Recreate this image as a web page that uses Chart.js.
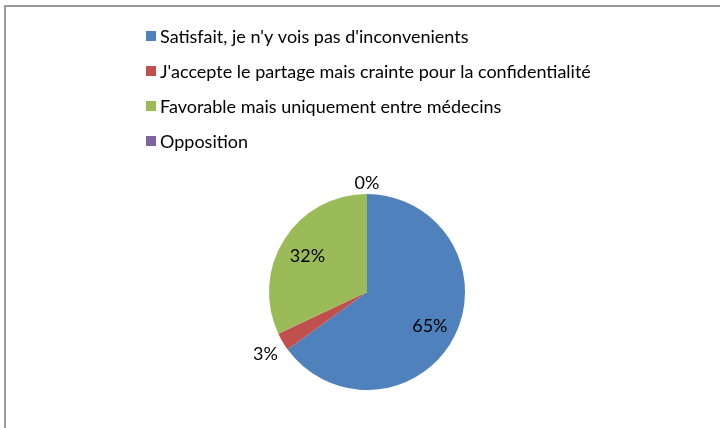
<!DOCTYPE html>
<html>
<head>
<meta charset="utf-8">
<script src="https://cdn.jsdelivr.net/npm/chart.js@4"></script>
<style>
  html, body { margin: 0; padding: 0; background: #fff; }
  #wrap { width: 720px; height: 428px; }
</style>
</head>
<body>
<div id="wrap"><canvas id="pieChart" width="720" height="428"></canvas></div>
<script>
const categories = [
  "Satisfait, je n'y vois pas d'inconvenients",
  "J'accepte le partage mais crainte pour la confidentialité",
  'Favorable mais uniquement entre médecins',
  'Opposition'
];
const percents = [65, 3, 32, 0];
const colors = ['#4F81BD', '#C0504D', '#9BBB59', '#8064A2'];

const FONT = '18px Lato';

// cadre gris (haut + gauche)
const framePlugin = {
  id: 'frame',
  beforeDraw(chart) {
    const { ctx, width, height } = chart;
    ctx.save();
    ctx.strokeStyle = '#9a9a9a';
    ctx.lineWidth = 2;
    ctx.beginPath();
    ctx.moveTo(5, height);
    ctx.lineTo(5, 6);
    ctx.lineTo(width, 6);
    ctx.stroke();
    ctx.restore();
  }
};

// légende verticale en haut
const legendPlugin = {
  id: 'vLegend',
  afterDraw(chart) {
    const { ctx } = chart;
    const labels = chart.data.labels;
    const bg = chart.data.datasets[0].backgroundColor;
    ctx.save();
    ctx.font = FONT;
    ctx.textBaseline = 'middle';
    labels.forEach((lab, i) => {
      const cy = 36 + i * 35;
      ctx.fillStyle = bg[i];
      ctx.fillRect(146, cy - 5, 10, 10);
      ctx.fillStyle = '#000';
      ctx.fillText(lab, 160, cy + 1);
    });
    ctx.restore();
  }
};

// étiquettes de pourcentage
const labelPlugin = {
  id: 'pctLabels',
  afterDatasetsDraw(chart) {
    const { ctx } = chart;
    const meta = chart.getDatasetMeta(0);
    const data = chart.data.datasets[0].data;
    ctx.save();
    ctx.font = FONT;
    ctx.fillStyle = '#000';
    ctx.textAlign = 'center';
    ctx.textBaseline = 'middle';
    meta.data.forEach((arc, i) => {
      const { x, y, startAngle, endAngle, outerRadius } = arc.getProps(['x', 'y', 'startAngle', 'endAngle', 'outerRadius'], true);
      const mid = (startAngle + endAngle) / 2;
      const d = data[i] >= 10 ? outerRadius * 0.72 : outerRadius + (data[i] === 0 ? 13 : 20);
      ctx.fillText(data[i] + '%', x + Math.cos(mid) * d, y + Math.sin(mid) * d + 2);
    });
    ctx.restore();
  }
};

new Chart(document.getElementById('pieChart'), {
  type: 'pie',
  data: {
    labels: categories,
    datasets: [{
      data: percents,
      backgroundColor: colors,
      borderWidth: 0
    }]
  },
  options: {
    responsive: false,
    animation: false,
    layout: { padding: { top: 194, bottom: 38, left: 14, right: 0 } },
    plugins: {
      legend: { display: false },
      tooltip: { enabled: false }
    }
  },
  plugins: [framePlugin, legendPlugin, labelPlugin]
});
</script>
</body>
</html>
